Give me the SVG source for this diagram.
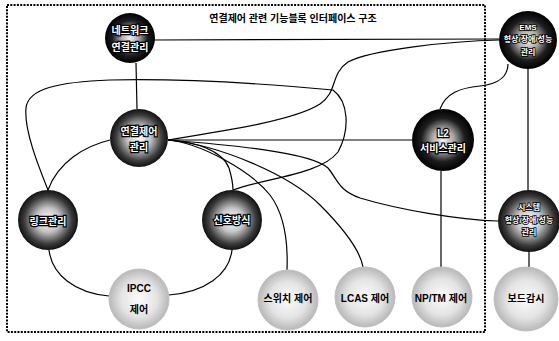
<svg xmlns="http://www.w3.org/2000/svg" width="559" height="341" viewBox="0 0 559 341">
<defs>
<radialGradient id="dk" cx="50%" cy="50%" r="50%">
<stop offset="0%" stop-color="#f2f2f2"/>
<stop offset="35%" stop-color="#a8a8a8"/>
<stop offset="70%" stop-color="#1e1e1e"/>
<stop offset="100%" stop-color="#000"/>
</radialGradient>
<radialGradient id="md" cx="50%" cy="50%" r="50%">
<stop offset="0%" stop-color="#ffffff"/>
<stop offset="40%" stop-color="#c4c4c4"/>
<stop offset="80%" stop-color="#3a3a3a"/>
<stop offset="100%" stop-color="#111"/>
</radialGradient>
<radialGradient id="lt" cx="50%" cy="50%" r="50%">
<stop offset="0%" stop-color="#fbfbfb"/>
<stop offset="60%" stop-color="#e4e4e4"/>
<stop offset="100%" stop-color="#b8b8b8"/>
</radialGradient>
</defs>
<style>
.frame{fill:none;stroke:#000;stroke-width:2;stroke-dasharray:2 1.3}
.c{fill:none;stroke:#000;stroke-width:1.2}
.dark{fill:url(#dk)}
.mid{fill:url(#md)}
.light{fill:url(#lt);stroke:#c0c0c0;stroke-width:1}
text{font-family:"Liberation Sans","Noto Sans CJK KR",sans-serif;font-weight:bold;text-anchor:middle;dominant-baseline:central}
.w{fill:#fff;stroke:#000;stroke-width:2.4;paint-order:stroke;font-size:10px}
.ws{fill:#fff;stroke:#000;stroke-width:1.6;paint-order:stroke;font-size:8px}
.b{fill:#000;font-size:10px}
.title{fill:#000;font-size:10px}
</style>
<rect class="frame" x="7" y="5" width="478" height="327"/>
<text class="title" x="293" y="18">연결제어 관련 기능블록 인터페이스 구조</text>
<g id="connectors">
<path class="c" d="M136,63 L137,109"/>
<path class="c" d="M154,40 L499,39"/>
<path class="c" d="M48,190 C38,165 24,130 26,108 C28,88 60,82 110,80 C200,78 290,86 333,90 C349,102 350,130 338,152 C320,175 265,178 233,190"/>
<path class="c" d="M499,40 C450,41 370,50 348,62 C330,74 338,92 320,104 C295,120 230,130 168,140"/>
<path class="c" d="M168,140 L412,140"/>
<path class="c" d="M168,140 C195,142 222,150 229,168 C232,178 233,185 233,190"/>
<path class="c" d="M168,140 C200,143 250,170 270,195 C285,215 288,245 287,270"/>
<path class="c" d="M168,140 C220,145 290,175 320,205 C345,230 360,250 363,267"/>
<path class="c" d="M168,140 C230,145 310,152 328,168 C338,180 338,190 360,198 C400,210 460,220 498,221"/>
<path class="c" d="M110,140 C85,146 58,162 48,190"/>
<path class="c" d="M49,250 C52,275 75,293 109,296"/>
<path class="c" d="M232,250 C229,275 205,292 169,295"/>
<path class="c" d="M441,171 L441,267"/>
<path class="c" d="M440,109 C446,93 460,88 480,86 C500,84 508,75 508,64"/>
<path class="c" d="M528,69 L528,190"/>
<path class="c" d="M529,252 L529,267"/>
</g>
<g id="n-network">
<circle class="dark" cx="130" cy="38" r="25"/>
<text class="w" x="130" y="30">네트워크</text>
<text class="w" x="130" y="47">연결관리</text>
</g>
<g id="n-conn">
<circle class="mid" cx="139" cy="138" r="29"/>
<text class="w" x="139" y="131">연결제어</text>
<text class="w" x="139" y="147">관리</text>
</g>
<g id="n-link">
<circle class="mid" cx="48" cy="220" r="30"/>
<text class="w" x="48" y="221">링크관리</text>
</g>
<g id="n-signal">
<circle class="mid" cx="232" cy="220" r="30"/>
<text class="w" x="232" y="220">신호방식</text>
</g>
<g id="n-ipcc">
<circle class="light" cx="139" cy="299" r="30"/>
<text class="b" x="139" y="288">IPCC</text>
<text class="b" x="139" y="309">제어</text>
</g>
<g id="n-switch">
<circle class="light" cx="288" cy="300" r="30"/>
<text class="b" x="288" y="298">스위치 제어</text>
</g>
<g id="n-lcas">
<circle class="light" cx="365" cy="297" r="30"/>
<text class="b" x="365" y="298">LCAS 제어</text>
</g>
<g id="n-nptm">
<circle class="light" cx="442" cy="297" r="30"/>
<text class="b" x="441" y="298">NP/TM 제어</text>
</g>
<g id="n-board">
<circle class="light" cx="526" cy="299" r="32"/>
<text class="b" x="526" y="298">보드감시</text>
</g>
<g id="n-l2">
<circle class="dark" cx="443" cy="140" r="31"/>
<text class="w" x="443" y="133">L2</text>
<text class="w" x="443" y="148">서비스관리</text>
</g>
<g id="n-ems">
<circle class="dark" cx="528" cy="40" r="29"/>
<text class="ws" x="528" y="27">EMS</text>
<text class="ws" x="528" y="39">형상/장애/성능</text>
<text class="ws" x="528" y="52">관리</text>
</g>
<g id="n-system">
<circle class="mid" cx="529" cy="221" r="31"/>
<text class="ws" x="529" y="207">시스템</text>
<text class="ws" x="529" y="220">형상/장애/성능</text>
<text class="ws" x="529" y="232">관리</text>
</g>
</svg>
